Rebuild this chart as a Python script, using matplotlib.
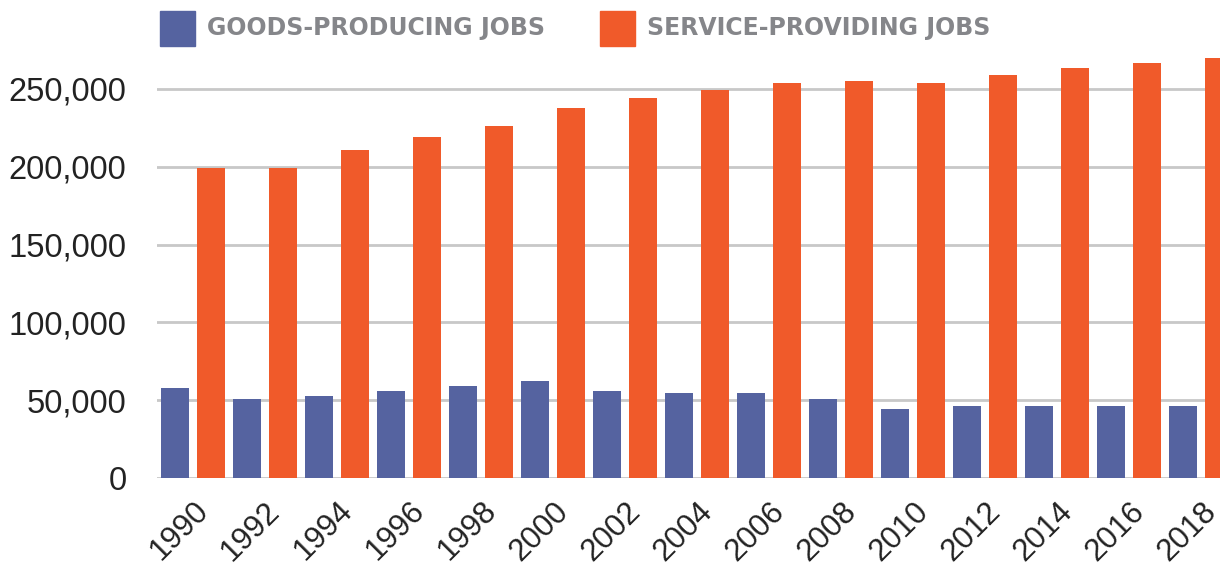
import numpy as np
import matplotlib.pyplot as plt
from matplotlib.patches import Rectangle

plt.rcParams['font.family'] = ['Liberation Sans', 'DejaVu Sans']

# jobs by year
years = ['1990', '1992', '1994', '1996', '1998', '2000', '2002', '2004',
         '2006', '2008', '2010', '2012', '2014', '2016', '2018']
goods = [57600, 51000, 52900, 55900, 59100, 62300, 55900, 54600,
         54600, 51000, 44500, 46300, 46300, 46300, 46300]
services = [199000, 199000, 210800, 219100, 226200, 237800, 244200, 249400,
            254000, 255300, 253700, 258800, 263500, 266900, 270100]

blue = '#5563a0'
orange = '#f05a2a'

fig = plt.figure(figsize=(12.2, 5.75), dpi=100)
ax = fig.add_axes([0.1287, 0.1687, 0.8713, 0.7443])

x = np.arange(len(years))
w = 0.39
ax.bar(x - 0.25, goods, w, color=blue, zorder=3)
ax.bar(x + 0.25, services, w, color=orange, zorder=3)

ax.set_xlim(-0.5, 14.26)
ax.set_ylim(0, 275000)
ax.set_yticks(np.arange(0, 250001, 50000))
ax.set_yticklabels([f'{v:,}' for v in range(0, 250001, 50000)])
ax.set_xticks(x)
ax.set_xticklabels(years, rotation=45, ha='right', rotation_mode='anchor')

ax.grid(axis='y', color='#c8c8c8', linewidth=2, zorder=0)
for s in ax.spines.values():
    s.set_visible(False)
ax.tick_params(axis='both', length=0, colors='#222222')
ax.tick_params(axis='y', labelsize=23.5, pad=22)
ax.tick_params(axis='x', labelsize=22.5, pad=13)

# legend drawn in figure space
for bx, tx, col, label in [(160, 207, blue, 'GOODS-PRODUCING JOBS'),
                           (600, 647, orange, 'SERVICE-PROVIDING JOBS')]:
    fig.add_artist(Rectangle((bx / 1220, 1 - 46 / 575), 35 / 1220, 35 / 575,
                             transform=fig.transFigure, color=col))
    fig.text(tx / 1220, 1 - 28.5 / 575, label, fontsize=17, fontweight='bold',
             family='DejaVu Sans', color='#85868a', va='center', ha='left')

fig.savefig('out.png', dpi=100)
